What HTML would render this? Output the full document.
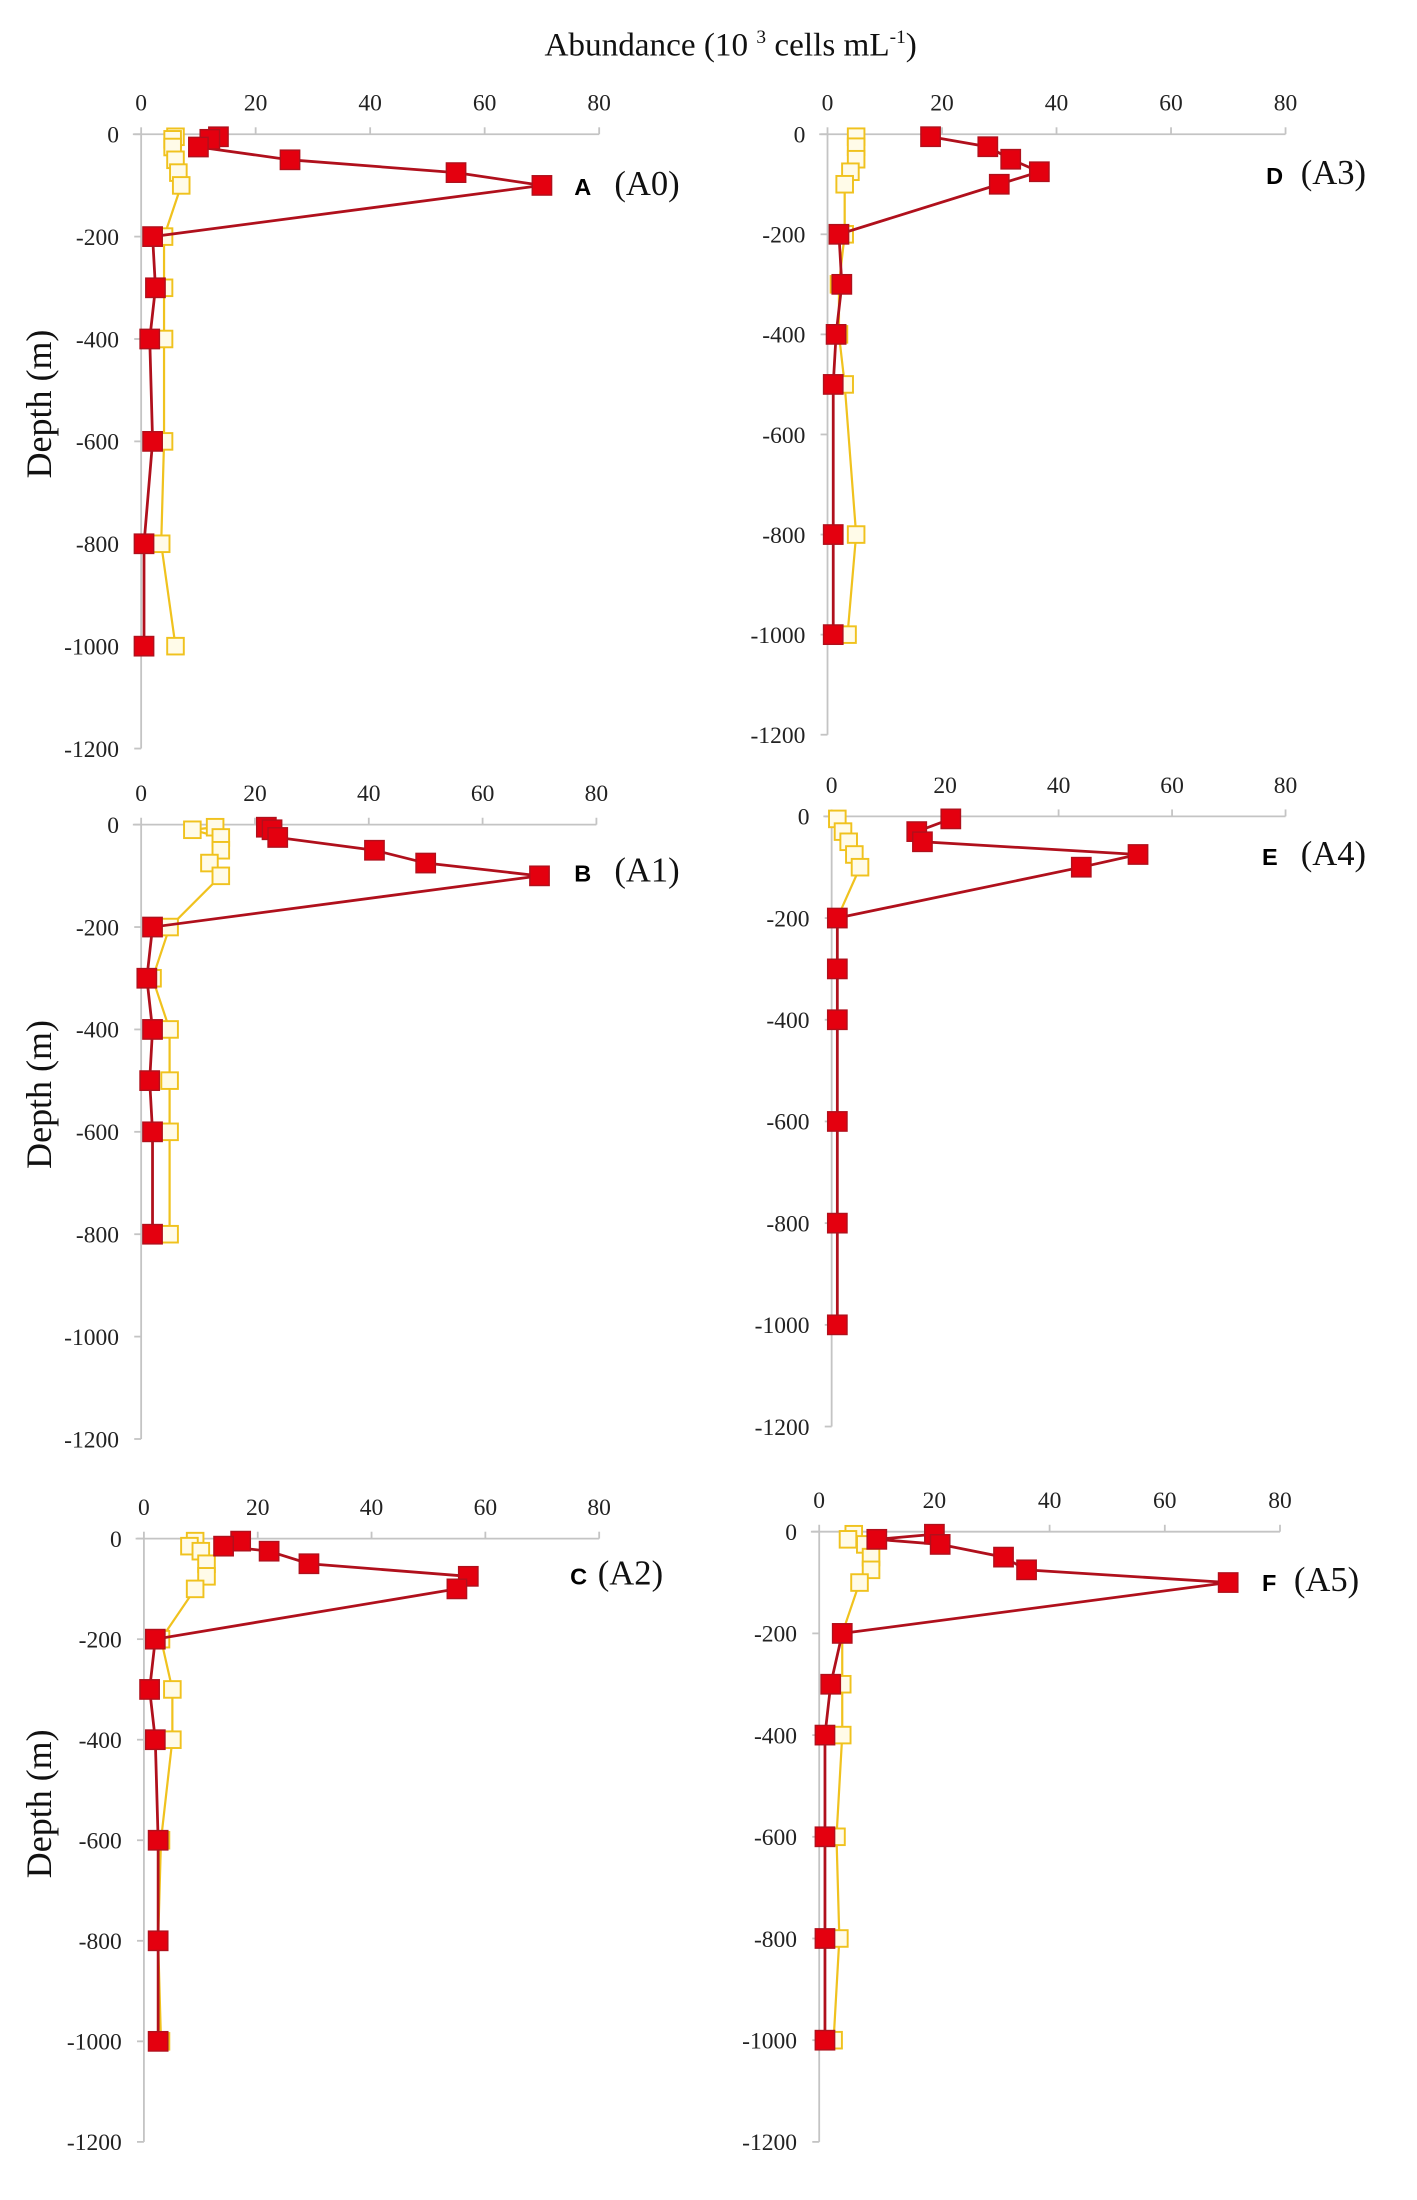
<!DOCTYPE html>
<html><head><meta charset="utf-8"><style>
html,body{margin:0;padding:0;background:#fff}
svg{display:block}
</style></head><body>
<svg id="chart" width="1417" height="2200" viewBox="0 0 1024 1590" preserveAspectRatio="none" xmlns="http://www.w3.org/2000/svg">
<text x="528" y="40" text-anchor="middle" font-family="Liberation Serif, serif" font-size="24" fill="#111">Abundance (10 <tspan font-size="14" dy="-9">3</tspan><tspan dy="9"> cells  mL</tspan><tspan font-size="14" dy="-9">-1</tspan><tspan dy="9">)</tspan></text>
</svg>
<script>
const depthTicks = [0, -200, -400, -600, -800, -1000, -1200];
const xTicks = [0, 20, 40, 60, 80];
const panelNames = ["A", "B", "C", "D", "E", "F"];
const stationNames = ["(A0)", "(A1)", "(A2)", "(A3)", "(A4)", "(A5)"];

const depthA = [-5, -10, -25, -50, -75, -100, -200, -300, -400, -600, -800, -1000];
const redA = [13.5, 12, 10, 26, 55, 70, 2, 2.5, 1.5, 2, 0.5, 0.5];
const yelA = [6, 5.5, 5.5, 6, 6.5, 7, 4, 4, 4, 4, 3.5, 6];

const depthB = [-5, -10, -25, -50, -75, -100, -200, -300, -400, -500, -600, -800];
const redB = [22, 23, 24, 41, 50, 70, 2, 1, 2, 1.5, 2, 2];
const yelB = [13, 9, 14, 14, 12, 14, 5, 2, 5, 5, 5, 5];

const depthC = [-5, -15, -25, -50, -75, -100, -200, -300, -400, -600, -800, -1000];
const redC = [17, 14, 22, 29, 57, 55, 2, 1, 2, 2.5, 2.5, 2.5];
const yelC = [9, 8, 10, 11, 11, 9, 3, 5, 5, 3, 2.5, 3];

const depthD = [-5, -25, -50, -75, -100, -200, -300, -400, -500, -800, -1000];
const redD = [18, 28, 32, 37, 30, 2, 2.5, 1.5, 1, 1, 1];
const yelD = [5, 5, 5, 4, 3, 3, 2, 2, 3, 5, 3.5];

const depthE = [-5, -30, -50, -75, -100, -200, -300, -400, -600, -800, -1000];
const redE = [21, 15, 16, 54, 44, 1, 1, 1, 1, 1, 1];
const yelE = [1, 2, 3, 4, 5, 1, 1, 1, 1, 1, 1];

const depthF = [-5, -15, -25, -50, -75, -100, -200, -300, -400, -600, -800, -1000];
const redF = [20, 10, 21, 32, 36, 71, 4, 2, 1, 1, 1, 1];
const yelF = [6, 5, 8, 9, 9, 7, 4, 4, 4, 3, 3.5, 2.5];

const NS = "http://www.w3.org/2000/svg";
const svg = document.getElementById("chart");
function mk(tag, attrs, parent) {
  const e = document.createElementNS(NS, tag);
  for (const k in attrs) e.setAttribute(k, attrs[k]);
  (parent || svg).appendChild(e);
  return e;
}
const layouts = [
  {x0: 102, x80: 433, y0: 97, y1200: 541, lx: 415, ly: 141, sx: 444, depthLabel: true},
  {x0: 102, x80: 431, y0: 596, y1200: 1040, lx: 415, ly: 637, sx: 444, depthLabel: true},
  {x0: 104, x80: 433, y0: 1112, y1200: 1548, lx: 412, ly: 1145, sx: 432, depthLabel: true},
  {x0: 598, x80: 929, y0: 97, y1200: 531, lx: 915, ly: 133, sx: 940, depthLabel: false},
  {x0: 601, x80: 929, y0: 590, y1200: 1031, lx: 912, ly: 625, sx: 940, depthLabel: false},
  {x0: 592, x80: 925, y0: 1107, y1200: 1548, lx: 912, ly: 1150, sx: 935, depthLabel: false}
];
const depths = [depthA, depthB, depthC, depthD, depthE, depthF];
const reds = [redA, redB, redC, redD, redE, redF];
const yels = [yelA, yelB, yelC, yelD, yelE, yelF];

layouts.forEach((L, i) => {
  const g = mk("g", {});
  
  
  const xs = v => L.x0 + (L.x80 - L.x0) * v / 80;
  const ys = d => L.y0 + (L.y1200 - L.y0) * (-d) / 1200;
  const ax = mk("line", {x1: L.x0, y1: ys(0), x2: L.x0, y2: ys(-1200), stroke: "#c4c4c4", "stroke-width": 1.3}, g);
  
  
  const hx = mk("line", {x1: L.x0 - 6, y1: ys(0), x2: xs(80), y2: ys(0), stroke: "#c4c4c4", "stroke-width": 1.3}, g);
  
  
  xTicks.forEach(t => {
    mk("line", {x1: xs(t), y1: ys(0), x2: xs(t), y2: ys(0) - 5, stroke: "#c4c4c4", "stroke-width": 1.3}, g);
    const tl = mk("text", {x: xs(t), y: ys(0) - 17, "text-anchor": "middle", "font-family": "Liberation Serif, serif", "font-size": 17, fill: "#222"}, g);
    tl.textContent = t;
    
    
  });
  depthTicks.forEach(t => {
    mk("line", {x1: L.x0 - 5, y1: ys(t), x2: L.x0, y2: ys(t), stroke: "#c4c4c4", "stroke-width": 1.3}, g);
    const tl = mk("text", {x: L.x0 - 16, y: ys(t) + 6, "text-anchor": "end", "font-family": "Liberation Serif, serif", "font-size": 17, fill: "#222"}, g);
    tl.textContent = t;
    
    
  });
  if (L.depthLabel) {
    const cy = (ys(-200) + ys(-800)) / 2 + 10;
    const dl = mk("text", {x: 0, y: 0, transform: "translate(37," + cy + ") rotate(-90)", "text-anchor": "middle", "font-family": "Liberation Serif, serif", "font-size": 26, fill: "#111"}, g);
    dl.textContent = "Depth (m)";
    
    
  }
  const D = depths[i], R = reds[i], Y = yels[i];
  const yl = mk("polyline", {points: D.map((d, k) => xs(Y[k]) + "," + ys(d)).join(" "), fill: "none", stroke: "#f0c21e", "stroke-width": 1.6}, g);
  
  
  D.forEach((d, k) => {
    const r = mk("rect", {x: xs(Y[k]) - 6, y: ys(d) - 6, width: 12, height: 12, fill: "#fffbe8", stroke: "#f0c21e", "stroke-width": 1.4}, g);
    
    
  });
  const rl = mk("polyline", {points: D.map((d, k) => xs(R[k]) + "," + ys(d)).join(" "), fill: "none", stroke: "#b0101c", "stroke-width": 2}, g);
  
  
  D.forEach((d, k) => {
    const r = mk("rect", {x: xs(R[k]) - 7, y: ys(d) - 7, width: 14, height: 14, fill: "#e4000f", stroke: "#b0101c", "stroke-width": 1}, g);
    
    
  });
  const pl = mk("text", {x: L.lx, y: L.ly, "font-family": "Liberation Sans, sans-serif", "font-weight": "bold", "font-size": 17, fill: "#000"}, g);
  pl.textContent = panelNames[i];
  
  
  const sl = mk("text", {x: L.sx, y: L.ly, "font-family": "Liberation Serif, serif", "font-size": 25, fill: "#111"}, g);
  sl.textContent = stationNames[i];
  
  
});
</script>
</body></html>
